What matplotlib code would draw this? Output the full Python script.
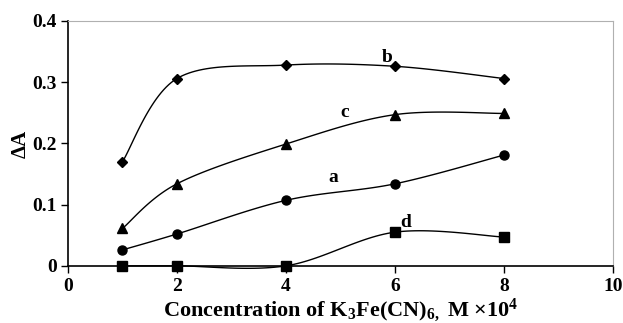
import numpy as np
import matplotlib.pyplot as plt

plt.rcParams['font.family'] = 'Liberation Serif'
plt.rcParams['font.weight'] = 'bold'
plt.rcParams['mathtext.fontset'] = 'custom'
plt.rcParams['mathtext.rm'] = 'Liberation Serif:bold'
plt.rcParams['mathtext.default'] = 'rm'

conc = [1, 2, 4, 6, 8]
a_vals = [0.026, 0.052, 0.107, 0.134, 0.181]
b_vals = [0.170, 0.306, 0.328, 0.326, 0.306]
c_vals = [0.061, 0.134, 0.199, 0.247, 0.249]
d_vals = [0.0, 0.0, 0.0, 0.055, 0.047]


def smooth(x, y, n=30):
    # excel-like smoothed line (bezier through points)
    p = np.column_stack([x, y]).astype(float)
    ext = np.vstack([p[0], p, p[-1]])
    out = []
    for i in range(len(p) - 1):
        p0, p1, p2, p3 = ext[i], ext[i + 1], ext[i + 2], ext[i + 3]
        c1 = p1 + (p2 - p0) / 6
        c2 = p2 - (p3 - p1) / 6
        t = np.linspace(0, 1, n)[:, None]
        seg = ((1 - t) ** 3 * p1 + 3 * (1 - t) ** 2 * t * c1
               + 3 * (1 - t) * t ** 2 * c2 + t ** 3 * p2)
        out.append(seg)
    s = np.vstack(out)
    return s[:, 0], s[:, 1]


fig = plt.figure(figsize=(6.23, 3.23), dpi=100)
ax = fig.add_axes([0.109, 0.177, 0.875, 0.758])

series = [(a_vals, 'o', 'a', 4.86, 0.144),
          (b_vals, 'D', 'b', 5.85, 0.341),
          (c_vals, '^', 'c', 5.08, 0.25),
          (d_vals, 's', 'd', 6.2, 0.071)]
for vals, mk, lab, lx, ly in series:
    sx, sy = smooth(conc, vals)
    ax.plot(sx, sy, color='black', lw=1.0, clip_on=False)
    ms = 5.5 if mk == 'D' else 6.5
    ax.plot(conc, vals, mk, color='black', ms=ms, clip_on=False, zorder=3)
    ax.text(lx, ly, lab, fontsize=14, fontweight='bold', ha='center', va='center')

ax.set_xlim(0, 10)
ax.set_ylim(0, 0.4)
ax.set_xticks([0, 2, 4, 6, 8, 10])
ax.set_yticks([0, 0.1, 0.2, 0.3, 0.4])
ax.set_yticklabels(['0', '0.1', '0.2', '0.3', '0.4'])
ax.tick_params(direction='out', length=5, width=1, labelsize=14, colors='black')
ax.tick_params(axis='y', pad=3)
ax.spines['top'].set_color('#b0b0b0')
ax.spines['right'].set_color('#b0b0b0')
for s in ['left', 'bottom']:
    ax.spines[s].set_linewidth(1.2)
ax.set_ylabel('ΔA', fontsize=15, fontweight='bold', labelpad=1)
ax.set_xlabel(r'Concentration of K$_3$Fe(CN)$_{6,}$ M ×10$^4$',
              fontsize=16, fontweight='bold', labelpad=1)

fig.savefig('out.png', dpi=100)
